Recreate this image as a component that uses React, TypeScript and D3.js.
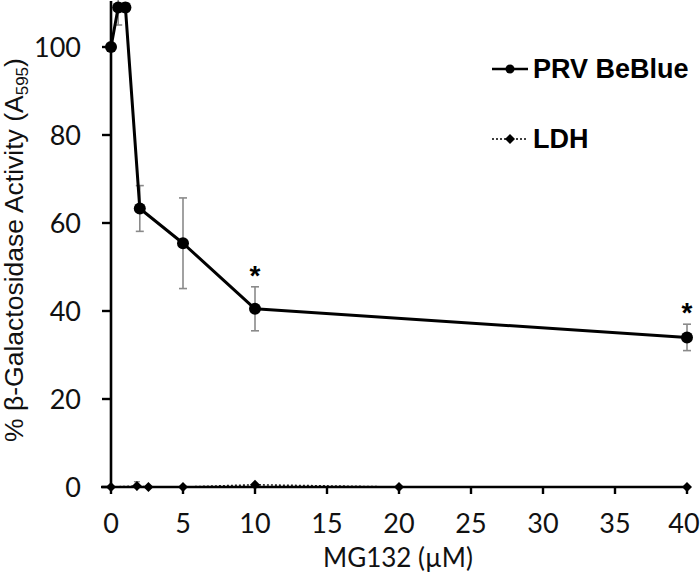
import React from 'react';
import * as d3 from 'd3';

const prvDose = [0, 0.5, 1, 2, 5, 10, 40];
const prvActivity = [100, 109, 109, 63.3, 55.4, 40.5, 34];
const prvError = [0, 4, 1, 5.2, 10.3, 5, 3];
const prvSignificant = [false, false, false, false, false, true, true];
const ldhDose = [0, 1.8, 2.6, 5, 10, 20, 40];
const ldhActivity = [0, 0.2, 0, 0, 0.5, 0, 0];
const ldhError = [0, 1, 0, 0, 0.3, 0, 0];
const xTicks = [0, 5, 10, 15, 20, 25, 30, 35, 40];
const yTicks = [0, 20, 40, 60, 80, 100];
const seriesNames = ['PRV BeBlue', 'LDH'];

const W = 700;
const H = 575;

export default function App() {
  const x = d3.scaleLinear().domain([0, 40]).range([111, 687]);
  const y = d3.scaleLinear().domain([0, 110]).range([487, 3]);
  const prvPts = prvDose.map((d, i) => [x(d), y(prvActivity[i])] as [number, number]);
  const ldhPts = ldhDose.map((d, i) => [x(d), y(ldhActivity[i])] as [number, number]);
  const line = d3.line();
  const diamond = (cx: number, cy: number, r: number) =>
    `M${cx},${cy - r}L${cx + r},${cy}L${cx},${cy + r}L${cx - r},${cy}Z`;
  const tickFont = 'Lato, "Open Sans", sans-serif';
  const boldFont = '"Liberation Sans", Arial, sans-serif';

  return (
    <svg width={W} height={H} style={{ position: 'absolute', left: 0, top: 0, background: '#fff' }}>
      <rect x={0} y={0} width={W} height={H} fill="#fff" />
      {/* LDH series */}
      <path d={line(ldhPts) || ''} fill="none" stroke="#222" strokeWidth={1.6} strokeDasharray="2,2" />
      {ldhDose.map((d, i) =>
        ldhError[i] > 0 ? (
          <g key={'le' + i} stroke="#777" strokeWidth={1.2}>
            <line x1={x(d)} x2={x(d)} y1={y(ldhActivity[i] + ldhError[i])} y2={y(ldhActivity[i] - ldhError[i])} />
            <line x1={x(d) - 3} x2={x(d) + 3} y1={y(ldhActivity[i] + ldhError[i])} y2={y(ldhActivity[i] + ldhError[i])} />
          </g>
        ) : null
      )}
      {/* axes */}
      <line x1={x(0)} x2={x(0)} y1={y(0)} y2={1} stroke="#000" strokeWidth={2.6} />
      <line x1={101} x2={689} y1={y(0)} y2={y(0)} stroke="#000" strokeWidth={2.6} />
      {yTicks.map((t) => (
        <g key={'yt' + t}>
          <line x1={x(0) - 9} x2={x(0)} y1={y(t)} y2={y(t)} stroke="#000" strokeWidth={2.4} />
          <text x={81} y={y(t)} dy="0.36em" textAnchor="end" fontFamily={tickFont} fontSize={27} fill="#111">
            {t}
          </text>
        </g>
      ))}
      {xTicks.map((t) => (
        <g key={'xt' + t}>
          <line x1={x(t)} x2={x(t)} y1={y(0)} y2={y(0) + 7} stroke="#000" strokeWidth={2.4} />
          <text x={Math.min(x(t), 684)} y={533} textAnchor="middle" fontFamily={tickFont} fontSize={27} fill="#111">
            {t}
          </text>
        </g>
      ))}
      {ldhPts.map((p, i) => (
        <path key={'ld' + i} d={diamond(p[0], p[1], 5)} fill="#000" />
      ))}
      {/* PRV series */}
      {prvDose.map((d, i) =>
        prvError[i] > 0 ? (
          <g key={'pe' + i} stroke="#8a8a8a" strokeWidth={1.6}>
            <line x1={x(d)} x2={x(d)} y1={y(prvActivity[i] + prvError[i])} y2={y(prvActivity[i] - prvError[i])} />
            <line x1={x(d) - 4} x2={x(d) + 4} y1={y(prvActivity[i] + prvError[i])} y2={y(prvActivity[i] + prvError[i])} />
            <line x1={x(d) - 4} x2={x(d) + 4} y1={y(prvActivity[i] - prvError[i])} y2={y(prvActivity[i] - prvError[i])} />
          </g>
        ) : null
      )}
      <path d={line(prvPts) || ''} fill="none" stroke="#000" strokeWidth={3} strokeLinejoin="round" />
      {prvPts.map((p, i) => (
        <circle key={'pc' + i} cx={p[0]} cy={p[1]} r={6} fill="#000" />
      ))}
      {prvDose.map((d, i) =>
        prvSignificant[i] ? (
          <text key={'st' + i} x={x(d)} y={y(prvActivity[i] + prvError[i]) - 2} textAnchor="middle" fontFamily={boldFont} fontWeight="bold" fontSize={28} fill="#000">
            *
          </text>
        ) : null
      )}
      {/* legend */}
      <line x1={492} x2={528} y1={69} y2={69} stroke="#000" strokeWidth={2.6} />
      <circle cx={510} cy={69} r={4.5} fill="#000" />
      <text x={533} y={78} fontFamily={boldFont} fontWeight="bold" fontSize={27} fill="#000">
        {seriesNames[0]}
      </text>
      <line x1={492} x2={528} y1={139} y2={139} stroke="#000" strokeWidth={1.6} strokeDasharray="2,2" />
      <path d={diamond(510, 139, 5)} fill="#000" />
      <text x={533} y={148} fontFamily={boldFont} fontWeight="bold" fontSize={27} fill="#000">
        {seriesNames[1]}
      </text>
      {/* axis titles */}
      <text x={398} y={567} textAnchor="middle" fontFamily={tickFont} fontSize={26} fill="#111">
        MG132 (µM)
      </text>
      <text transform="translate(23,250) rotate(-90)" textAnchor="middle" fontFamily={boldFont} fontSize={26.5} fill="#111">
        % β-Galactosidase Activity (A<tspan fontSize={17} dy={5}>595</tspan><tspan dy={-5}>)</tspan>
      </text>
    </svg>
  );
}
